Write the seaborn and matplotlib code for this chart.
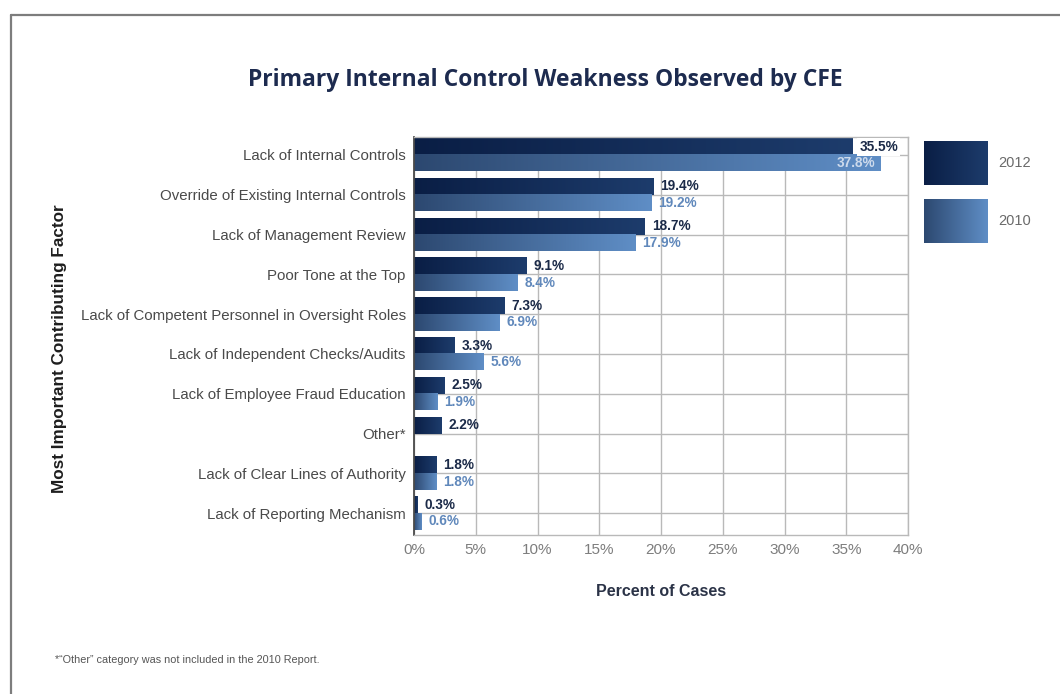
import numpy as np
import pandas as pd
import matplotlib
matplotlib.use("Agg")
import matplotlib.pyplot as plt
from matplotlib.colors import LinearSegmentedColormap
from matplotlib.lines import Line2D
import seaborn as sns

# ---- data ----
factors = [
    "Lack of Internal Controls",
    "Override of Existing Internal Controls",
    "Lack of Management Review",
    "Poor Tone at the Top",
    "Lack of Competent Personnel in Oversight Roles",
    "Lack of Independent Checks/Audits",
    "Lack of Employee Fraud Education",
    "Other*",
    "Lack of Clear Lines of Authority",
    "Lack of Reporting Mechanism",
]
pct_2012 = [35.5, 19.4, 18.7, 9.1, 7.3, 3.3, 2.5, 2.2, 1.8, 0.3]
pct_2010 = [37.8, 19.2, 17.9, 8.4, 6.9, 5.6, 1.9, np.nan, 1.8, 0.6]
years = ["2012", "2010"]
x_ticks = [0, 5, 10, 15, 20, 25, 30, 35, 40]

# ---- styling ----
grad = {
    "2012": ("#0a1e45", "#1d3c6c"),
    "2010": ("#2c4870", "#5f8ec6"),
}
label_color = {"2012": "#1b2a48", "2010": "#6088bb"}
W, H = 1060, 694

df = pd.DataFrame({
    "factor": factors * 2,
    "pct": pct_2012 + pct_2010,
    "year": ["2012"] * len(factors) + ["2010"] * len(factors),
})
df = df.dropna()

sns.set_theme(style="white")
plt.rcParams["font.family"] = ["Liberation Sans", "DejaVu Sans"]

fig = plt.figure(figsize=(W / 100, H / 100), dpi=100)
fig.patch.set_facecolor("white")
ax = fig.add_axes([414 / W, 1 - 535 / H, (908 - 414) / W, (535 - 137) / H])

sns.barplot(
    data=df, y="factor", x="pct", hue="year", hue_order=years,
    order=factors, orient="h", width=0.83,
    palette=[grad["2012"][1], grad["2010"][1]],
    legend=False, ax=ax, zorder=2,
)

def gradient_fill(axis, patch, c0, c1):
    x, y = patch.get_x(), patch.get_y()
    w, h = patch.get_width(), patch.get_height()
    if not np.isfinite(w) or w <= 0:
        return
    cmap = LinearSegmentedColormap.from_list("g", [c0, c1])
    img = np.linspace(0, 1, 256).reshape(1, -1)
    axis.imshow(img, cmap=cmap, extent=[x, x + w, y + h, y],
                aspect="auto", interpolation="bicubic", zorder=2)
    patch.set_facecolor("none")
    patch.set_edgecolor("none")

xmax = x_ticks[-1]
for year, container in zip(years, ax.containers):
    c0, c1 = grad[year]
    for patch in container:
        w = patch.get_width()
        if not np.isfinite(w) or w <= 0:
            continue
        gradient_fill(ax, patch, c0, c1)
        yc = patch.get_y() + patch.get_height() / 2
        txt = f"{w:.1f}%"
        if w > xmax - 3:
            ax.annotate(txt, (w, yc), xytext=(-4, 0), textcoords="offset points",
                        ha="right", va="center", fontsize=9.8, fontweight="bold",
                        color="#cddaec", zorder=4)
        else:
            ax.annotate(txt, (w, yc), xytext=(5, 0), textcoords="offset points",
                        ha="left", va="center", fontsize=9.8, fontweight="bold",
                        color=label_color[year], zorder=4,
                        bbox=dict(boxstyle="square,pad=0.15", fc="white", ec="none")
                        if year == "2012" and w > 30 else None)

ax.set_xlim(0, xmax)
ax.set_ylim(len(factors) - 0.45, -0.45)
ax.set_xticks(x_ticks)
ax.set_xticklabels([f"{t}%" for t in x_ticks])
ax.set_yticks(range(len(factors)))
ax.set_yticklabels(factors)

ax.grid(True, axis="both", color="#b9b9b9", lw=1.0, zorder=0)
ax.set_axisbelow(True)
for side in ["top", "right", "bottom"]:
    ax.spines[side].set_color("#b9b9b9")
    ax.spines[side].set_linewidth(1.0)
ax.spines["left"].set_color("#4a4a4a")
ax.spines["left"].set_linewidth(1.3)

ax.tick_params(axis="y", length=0, pad=6, labelsize=10.8, labelcolor="#4a4a4a")
ax.tick_params(axis="x", length=0, pad=6, labelsize=11, labelcolor="#7d7d7d")

ax.set_xlabel("Percent of Cases", fontsize=11.5, fontweight="bold",
              color="#2b3347", labelpad=19)
ax.set_ylabel("")

# ---- figure-level decorations ----
fig.text(60 / W, 1 - 349 / H, "Most Important Contributing Factor",
         rotation=90, ha="center", va="center", fontsize=12.3,
         fontweight="bold", color="#1e1e1e")
fig.text(545 / W, 1 - 80 / H, "Primary Internal Control Weakness Observed by CFE",
         ha="center", va="center", fontsize=16.5, fontweight="bold",
         color="#1d2b4f", family=["Open Sans", "DejaVu Sans"])
fig.text(55 / W, 1 - 660 / H,
         "*\u201cOther\u201d category was not included in the 2010 Report.",
         ha="left", va="center", fontsize=7.8, color="#555555")

# frame lines around the panel
fig.add_artist(Line2D([11 / W, 1], [1 - 15 / H, 1 - 15 / H], color="#7d7d7d",
                      lw=1.6, transform=fig.transFigure))
fig.add_artist(Line2D([11 / W, 11 / W], [0, 1 - 15 / H], color="#7d7d7d",
                      lw=1.6, transform=fig.transFigure))

# legend swatches with gradients
swatch_tops = {"2012": 141, "2010": 199}
for year in years:
    top = swatch_tops[year]
    lax = fig.add_axes([924 / W, 1 - (top + 44) / H, 63 / W, 44 / H])
    cmap = LinearSegmentedColormap.from_list("g", list(grad[year]))
    lax.imshow(np.linspace(0, 1, 256).reshape(1, -1), cmap=cmap,
               aspect="auto", interpolation="bicubic")
    lax.set_axis_off()
    fig.text(998 / W, 1 - (top + 22) / H, year, ha="left", va="center",
             fontsize=10.5, color="#6a6a6a")

fig.savefig("out.png", dpi=100, facecolor="white")
